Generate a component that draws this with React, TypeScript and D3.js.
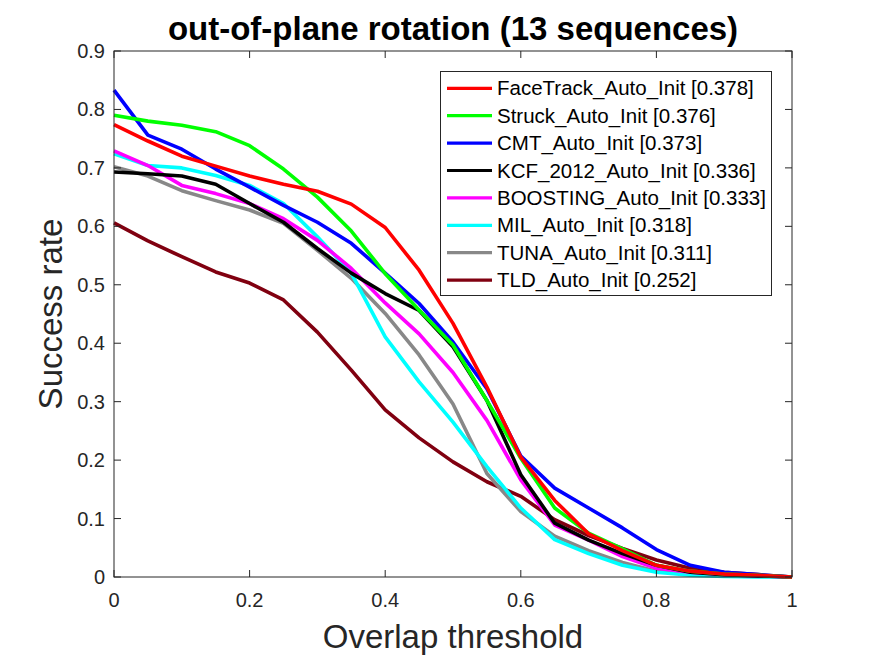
import React, { useEffect, useRef } from "react";
import * as d3 from "d3";

const thresholds = [0, 0.05, 0.1, 0.15, 0.2, 0.25, 0.3, 0.35, 0.4, 0.45, 0.5, 0.55, 0.6, 0.65, 0.7, 0.75, 0.8, 0.85, 0.9, 0.95, 1];

const trackerNames = [
  "FaceTrack_Auto_Init [0.378]",
  "Struck_Auto_Init [0.376]",
  "CMT_Auto_Init [0.373]",
  "KCF_2012_Auto_Init [0.336]",
  "BOOSTING_Auto_Init [0.333]",
  "MIL_Auto_Init [0.318]",
  "TUNA_Auto_Init [0.311]",
  "TLD_Auto_Init [0.252]",
];

const trackerColors = ["#ff0000", "#00ff00", "#0000ff", "#000000", "#ff00ff", "#00ffff", "#888888", "#800010"];

const faceTrack = [0.774, 0.746, 0.72, 0.703, 0.686, 0.672, 0.66, 0.638, 0.598, 0.525, 0.434, 0.325, 0.205, 0.131, 0.074, 0.045, 0.02, 0.01, 0.005, 0.003, 0];
const struck = [0.79, 0.78, 0.773, 0.762, 0.738, 0.698, 0.65, 0.592, 0.519, 0.457, 0.397, 0.302, 0.203, 0.118, 0.075, 0.048, 0.02, 0.01, 0.005, 0.003, 0];
const cmt = [0.833, 0.756, 0.732, 0.698, 0.667, 0.636, 0.607, 0.571, 0.52, 0.468, 0.402, 0.322, 0.207, 0.152, 0.118, 0.084, 0.047, 0.02, 0.008, 0.004, 0];
const kcf = [0.693, 0.69, 0.686, 0.672, 0.639, 0.607, 0.562, 0.52, 0.485, 0.456, 0.394, 0.302, 0.175, 0.092, 0.063, 0.04, 0.02, 0.008, 0.004, 0.002, 0];
const boosting = [0.729, 0.704, 0.67, 0.656, 0.639, 0.613, 0.576, 0.528, 0.469, 0.416, 0.35, 0.268, 0.166, 0.089, 0.063, 0.035, 0.015, 0.008, 0.004, 0.002, 0];
const mil = [0.724, 0.704, 0.7, 0.687, 0.67, 0.639, 0.582, 0.52, 0.411, 0.334, 0.265, 0.189, 0.118, 0.064, 0.04, 0.02, 0.008, 0.003, 0.001, 0, 0];
const tuna = [0.702, 0.686, 0.661, 0.644, 0.628, 0.605, 0.559, 0.511, 0.451, 0.38, 0.296, 0.177, 0.112, 0.07, 0.045, 0.025, 0.01, 0.005, 0.002, 0.001, 0];
const tld = [0.606, 0.575, 0.548, 0.522, 0.503, 0.474, 0.419, 0.354, 0.286, 0.238, 0.197, 0.163, 0.138, 0.098, 0.071, 0.049, 0.029, 0.015, 0.008, 0.004, 0];

const seriesValues = [faceTrack, struck, cmt, kcf, boosting, mil, tuna, tld];

const xTicks = [0, 0.2, 0.4, 0.6, 0.8, 1];
const yTicks = [0, 0.1, 0.2, 0.3, 0.4, 0.5, 0.6, 0.7, 0.8, 0.9];

const font = "'Liberation Sans', Arial, sans-serif";

const App: React.FC = () => {
  const svgRef = useRef<SVGSVGElement | null>(null);

  useEffect(() => {
    if (!svgRef.current) return;
    const svg = d3.select(svgRef.current);
    svg.selectAll("*").remove();

    const left = 114;
    const right = 792;
    const top = 51;
    const bottom = 577;

    const x = d3.scaleLinear().domain([0, 1]).range([left, right]);
    const y = d3.scaleLinear().domain([0, 0.9]).range([bottom, top]);

    svg.append("rect").attr("width", 875).attr("height", 656).attr("fill", "#fff");

    // curves, first tracker drawn last (on top)
    const line = d3
      .line<number>()
      .x((_, i) => x(thresholds[i]))
      .y((d) => y(d));

    const plot = svg.append("g");
    seriesValues
      .slice()
      .reverse()
      .forEach((vals, ri) => {
        const i = seriesValues.length - 1 - ri;
        plot
          .append("path")
          .attr("d", line(vals) || "")
          .attr("fill", "none")
          .attr("stroke", trackerColors[i])
          .attr("stroke-width", 3.6)
          .attr("stroke-linejoin", "round");
      });

    // box + ticks
    const axisColor = "#262626";
    svg
      .append("rect")
      .attr("x", left)
      .attr("y", top)
      .attr("width", right - left)
      .attr("height", bottom - top)
      .attr("fill", "none")
      .attr("stroke", axisColor)
      .attr("stroke-width", 1);

    const tickLen = 7;
    xTicks.forEach((t) => {
      svg.append("line").attr("x1", x(t)).attr("x2", x(t)).attr("y1", bottom).attr("y2", bottom - tickLen).attr("stroke", axisColor);
      svg.append("line").attr("x1", x(t)).attr("x2", x(t)).attr("y1", top).attr("y2", top + tickLen).attr("stroke", axisColor);
      svg
        .append("text")
        .attr("x", x(t))
        .attr("y", 607)
        .attr("text-anchor", "middle")
        .attr("font-family", font)
        .attr("font-size", 20)
        .attr("fill", axisColor)
        .text(d3.format("~g")(t));
    });
    yTicks.forEach((t) => {
      svg.append("line").attr("x1", left).attr("x2", left + tickLen).attr("y1", y(t)).attr("y2", y(t)).attr("stroke", axisColor);
      svg.append("line").attr("x1", right).attr("x2", right - tickLen).attr("y1", y(t)).attr("y2", y(t)).attr("stroke", axisColor);
      svg
        .append("text")
        .attr("x", left - 9)
        .attr("y", y(t))
        .attr("dy", "0.35em")
        .attr("text-anchor", "end")
        .attr("font-family", font)
        .attr("font-size", 20)
        .attr("fill", axisColor)
        .text(d3.format("~g")(t));
    });

    // title + labels
    svg
      .append("text")
      .attr("x", (left + right) / 2)
      .attr("y", 40)
      .attr("text-anchor", "middle")
      .attr("font-family", font)
      .attr("font-size", 33)
      .attr("font-weight", "bold")
      .attr("fill", "#000")
      .text("out-of-plane rotation (13 sequences)");

    svg
      .append("text")
      .attr("x", (left + right) / 2)
      .attr("y", 648)
      .attr("text-anchor", "middle")
      .attr("font-family", font)
      .attr("font-size", 33)
      .attr("fill", axisColor)
      .text("Overlap threshold");

    svg
      .append("text")
      .attr("transform", `translate(62, ${(top + bottom) / 2}) rotate(-90)`)
      .attr("text-anchor", "middle")
      .attr("font-family", font)
      .attr("font-size", 33)
      .attr("fill", axisColor)
      .text("Success rate");

    // legend
    const lg = svg.append("g");
    lg.append("rect")
      .attr("x", 440.5)
      .attr("y", 71.5)
      .attr("width", 331)
      .attr("height", 224)
      .attr("fill", "#fff")
      .attr("stroke", axisColor)
      .attr("stroke-width", 1);
    trackerNames.forEach((name, i) => {
      const cy = 88.3 + i * 27.4;
      lg.append("line")
        .attr("x1", 447)
        .attr("x2", 492)
        .attr("y1", cy)
        .attr("y2", cy)
        .attr("stroke", trackerColors[i])
        .attr("stroke-width", 3.2);
      lg.append("text")
        .attr("x", 497)
        .attr("y", cy)
        .attr("dy", "0.35em")
        .attr("font-family", font)
        .attr("font-size", 20.5)
        .attr("fill", "#000")
        .text(name);
    });
  }, []);

  return (
    <svg
      ref={svgRef}
      width={875}
      height={656}
      style={{ position: "absolute", left: 0, top: 0, display: "block" }}
    ></svg>
  );
};

export default App;
